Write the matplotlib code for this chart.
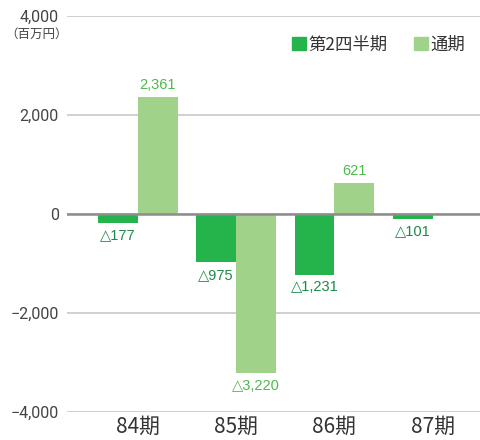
import matplotlib
matplotlib.use("Agg")
import matplotlib.pyplot as plt
import numpy as np
from matplotlib.patches import Patch

periods = ["84期", "85期", "86期", "87期"]
q2 = [-177, -975, -1231, -101]
full = [2361, -3220, 621, None]
q2_labels = ["△177", "△975", "△1,231", "△101"]
full_labels = ["2,361", "△3,220", "621", None]
yticks = [4000, 2000, 0, -2000, -4000]
ytick_labels = ["4,000", "2,000", "0", "−2,000", "−4,000"]

dark = "#25b34b"
light = "#a1d28a"
dark_txt = "#1b8a48"
light_txt = "#4cba4c"
num = ["Liberation Sans", "DejaVu Sans"]
cjk = ["Noto Sans CJK JP", "DejaVu Sans"]

fig = plt.figure(figsize=(4.81, 4.40), dpi=100)
ax = fig.add_axes([67/481, 28/440, 414/481, 396/440])

x = np.arange(len(periods))
w = 0.405
ax.bar(x - w/2, q2, width=w, color=dark, zorder=3)
full_vals = [v if v is not None else 0 for v in full]
ax.bar(x + w/2, full_vals, width=w, color=light, zorder=3)

for i, v in enumerate(q2):
    ax.text(x[i] - w/2, v - 110, q2_labels[i], ha="center", va="top",
            fontsize=10.5, color=dark_txt, family=num)
for i, v in enumerate(full):
    if v is None:
        continue
    if v >= 0:
        ax.text(x[i] + w/2, v + 110, full_labels[i], ha="center", va="bottom",
                fontsize=10.5, color=light_txt, family=num)
    else:
        ax.text(x[i] + w/2, v - 110, full_labels[i], ha="center", va="top",
                fontsize=10.5, color=light_txt, family=num)

for y in yticks:
    ax.axhline(y, color="#c8c8c8", lw=1.2, zorder=1)
ax.axhline(0, color="#8c8c8c", lw=1.8, zorder=4)

ax.set_xlim(-0.72, 3.49)
ax.set_ylim(-4000, 4000)
ax.set_yticks(yticks)
ax.set_yticklabels(ytick_labels, family=["Roboto", "DejaVu Sans"], fontsize=11.5, color="#444444")
ax.set_xticks(x)
ax.set_xticklabels(periods, family=cjk, fontsize=15, color="#333333")
ax.tick_params(axis="y", length=0, pad=6)
ax.tick_params(axis="x", length=0, pad=3)
for s in ax.spines.values():
    s.set_visible(False)

fig.text(0.01, 0.923, "（百万円）", family=cjk, fontsize=9, color="#444444",
         ha="left", va="center")

handles = [Patch(color=dark), Patch(color=light)]
leg = ax.legend(handles, ["第2四半期", "通期"], loc="upper right",
                bbox_to_anchor=(1.0, 0.99), ncol=2, frameon=False,
                prop={"family": cjk, "size": 12.5}, handlelength=0.8,
                handleheight=0.8, handletextpad=0.15, columnspacing=1.5)
for t in leg.get_texts():
    t.set_color("#333333")

fig.savefig("out.png", dpi=100)
